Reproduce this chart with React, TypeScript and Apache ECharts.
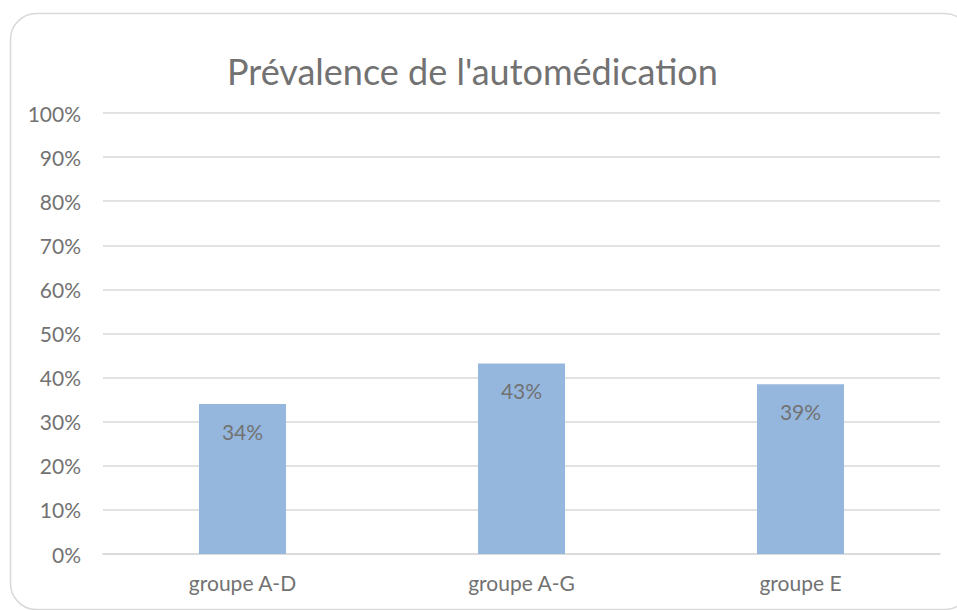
import React, { useEffect, useRef } from "react";
import * as echarts from "echarts";

const categories = ["groupe A-D", "groupe A-G", "groupe E"];
const values = [0.34, 0.432, 0.385];
const labels = ["34%", "43%", "39%"];
const titleText = "Prévalence de l'automédication";

export default function App() {
  const ref = useRef<HTMLDivElement>(null);
  useEffect(() => {
    const chart = echarts.init(ref.current!, null, { renderer: "svg" });
    const font = "Lato, 'Open Sans', sans-serif";
    const textColor = "#727272";
    chart.setOption({
      animation: false,
      backgroundColor: "#ffffff",
      title: {
        text: titleText,
        left: 222,
        top: 48,
        textStyle: { fontFamily: font, fontSize: 36, fontWeight: "normal", color: textColor },
      },
      graphic: [
        {
          type: "rect",
          shape: { x: 10.5, y: 13.5, width: 960, height: 596, r: 26 },
          style: { fill: "none", stroke: "#d9d9d9", lineWidth: 1.5 },
          silent: true,
          z: -1,
        },
      ],
      grid: { left: 103, right: 17, top: 113, bottom: 56 },
      xAxis: {
        type: "category",
        data: categories,
        axisTick: { show: false },
        axisLine: { show: true, lineStyle: { color: "#d9d9d9", width: 1.5 } },
        axisLabel: { fontFamily: font, fontSize: 21, color: textColor, margin: 18 },
      },
      yAxis: {
        type: "value",
        min: 0,
        max: 1,
        interval: 0.1,
        axisLine: { show: false },
        axisTick: { show: false },
        splitLine: { lineStyle: { color: "#d9d9d9", width: 1.5 } },
        axisLabel: {
          fontFamily: font,
          fontSize: 21,
          color: textColor,
          margin: 22,
          formatter: (v: number) => Math.round(v * 100) + "%",
        },
      },
      series: [
        {
          type: "bar",
          data: values,
          barWidth: 87,
          itemStyle: { color: "#95b7de" },
          label: {
            show: true,
            position: "insideTop",
            distance: 17,
            fontFamily: font,
            fontSize: 21,
            color: textColor,
            formatter: (p: any) => labels[p.dataIndex],
          },
        },
      ],
    });
    return () => chart.dispose();
  }, []);
  return (
    <div
      ref={ref}
      style={{ position: "absolute", left: 0, top: 0, width: 957, height: 610 }}
    />
  );
}
